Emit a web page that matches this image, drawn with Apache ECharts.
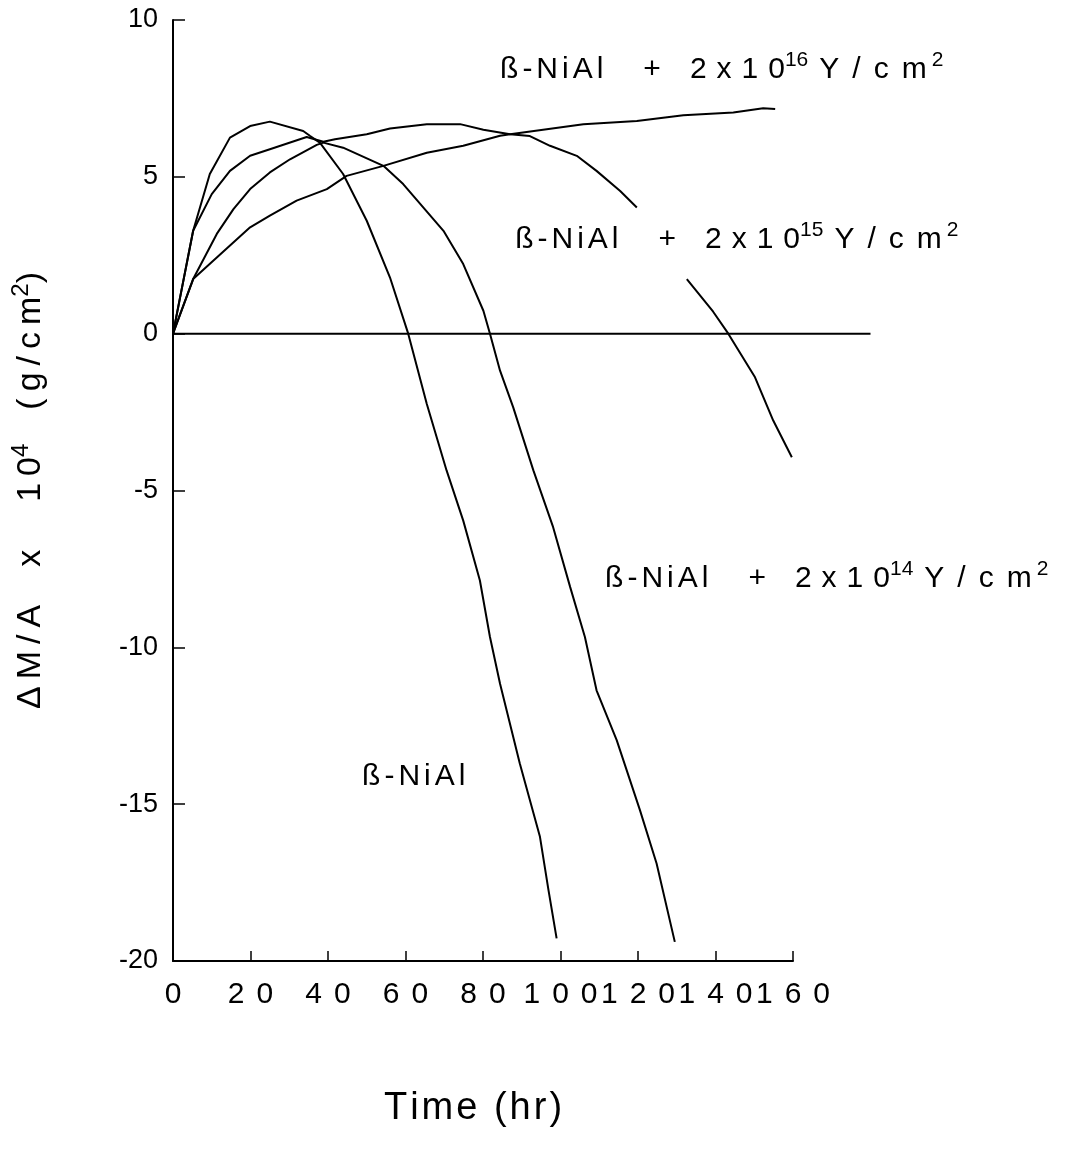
<!DOCTYPE html>
<html>
<head>
<meta charset="utf-8">
<script src="https://cdn.jsdelivr.net/npm/echarts@6/dist/echarts.min.js"></script>
<style>
html,body{margin:0;padding:0;background:#fff;}
#chart{width:1066px;height:1154px;}
</style>
</head>
<body>
<div id="chart"></div>
<script>
// ---- data (time in hr, mass change x10^4 g/cm^2) ----
const timeBare  = [0, 5.2, 9.5, 14.7, 19.9, 25.0, 33.6, 35.4, 37.9, 43.9, 50.0, 56.0, 60.7, 65.5, 70.6, 74.9, 79.2, 81.8, 84.4, 89.5, 94.7, 96.9, 99.0];
const valueBare = [0, 3.28, 5.09, 6.25, 6.62, 6.76, 6.46, 6.30, 6.09, 5.09, 3.60, 1.79, 0.0, -2.24, -4.36, -5.96, -7.87, -9.67, -11.16, -13.70, -16.04, -17.74, -19.28];

const time14  = [0, 5.2, 11.3, 15.6, 19.9, 25.0, 30.2, 37.1, 38.8, 43.9, 54.3, 59.4, 69.8, 74.9, 80.1, 81.8, 84.4, 87.8, 93.0, 98.1, 102.5, 106.3, 109.3, 114.5, 120.5, 124.8, 129.5];
const value14 = [0, 1.74, 3.18, 3.97, 4.61, 5.14, 5.56, 6.02, 6.09, 5.93, 5.35, 4.77, 3.28, 2.22, 0.73, 0.0, -1.18, -2.35, -4.36, -6.17, -8.08, -9.67, -11.37, -12.96, -15.19, -16.89, -19.39];

const time15a  = [0, 5.2, 10.0, 14.7, 19.9, 25.0, 34.5, 38.8, 41.8, 50.0, 56.0, 65.5, 74.1, 80.1, 87.0, 92.1, 97.3, 104.2, 109.3, 115.4, 119.7];
const value15a = [0, 3.28, 4.45, 5.19, 5.67, 5.88, 6.27, 6.12, 6.20, 6.36, 6.54, 6.68, 6.68, 6.50, 6.36, 6.30, 5.99, 5.67, 5.19, 4.55, 4.02];
const time15b  = [132.6, 139.4, 143.3, 150.2, 154.9, 159.7];
const value15b = [1.74, 0.70, 0.0, -1.39, -2.77, -3.94];

const time16  = [0, 5.2, 11.3, 19.9, 25.0, 31.9, 39.7, 44.8, 54.3, 65.5, 74.9, 84.4, 87.0, 105.9, 119.7, 131.7, 144.6, 152.3, 155.4];
const value16 = [0, 1.74, 2.43, 3.39, 3.76, 4.24, 4.61, 5.03, 5.35, 5.77, 5.99, 6.31, 6.36, 6.68, 6.78, 6.96, 7.05, 7.19, 7.16];

// zero reference line runs past the last tick, to 180 hr
const zeroTime  = [0, 180];
const zeroValue = [0, 0];

// annotation anchors (data coordinates) and doses
const noteTime  = [84.4, 88.3, 111.5, 48.8];
const noteValue = [8.41, 2.99, -7.8, -14.14];
const noteDose  = ['16', '15', '14', ''];

const xMin = 0, xMax = 160, xStep = 20;
const yMin = -20, yMax = 10, yStep = 5;
const xMaxZero = 180;

// ---- helpers ----
const FONT = "'Liberation Sans', Arial, Helvetica, sans-serif";
function zip(t, v) { return t.map((x, i) => [x, v[i]]); }
function spaced(s, style, lastStyle) {
  const ch = s.split('');
  return ch.map((c, i) => '{' + ((i === ch.length - 1 && lastStyle) ? lastStyle : style) + '|' + c + '}').join('');
}
function noteText(dose) {
  let s = spaced('ß-NiAl', 'n', 'e');
  if (dose) {
    s += '{g1| }{e|+}{g2| }' + spaced('2x10', 'd', 'e') + '{s|' + dose + '}{g3| }' + spaced('Y/cm', 'y', 'e') + '{g4| }{s|2}';
  }
  return s;
}

const lineStyle = { color: '#000', width: 2 };
function mkSeries(t, v, gi) {
  return { type: 'line', data: zip(t, v), symbol: 'none', showSymbol: false, lineStyle: lineStyle,
           xAxisIndex: gi, yAxisIndex: gi, silent: true, animation: false, z: 3 };
}

const chart = echarts.init(document.getElementById('chart'), null, { renderer: 'canvas' });

const yName = spaced('ΔM/A', 'a', 'e') + '{g1| }{e|x}{g2| }' + spaced('10', 'a', 'e') + '{s|4}{g3| }' + spaced('(g/cm', 'a', 'e') + '{s|2}{e|)}';
const xName = spaced('Time (hr)', 'a', 'e');

// pixel scale of main grid: 160 hr over 620 px -> zero-line grid ends at 180 hr
const gridLeft = 173, gridRight = 273, plotW = 1066 - gridLeft - gridRight;
const zeroRight = 1066 - gridLeft - plotW * xMaxZero / xMax;

chart.setOption({
  backgroundColor: '#fff',
  animation: false,
  grid: [
    { left: gridLeft, right: gridRight, top: 20, bottom: 193, outerBoundsMode: 'none', containLabel: false },
    { left: gridLeft, right: zeroRight, top: 20, bottom: 193, outerBoundsMode: 'none', containLabel: false }
  ],
  xAxis: [{
    type: 'value', min: xMin, max: xMax, interval: xStep, gridIndex: 0,
    axisLine: { show: true, onZero: false, lineStyle: { color: '#000', width: 2 } },
    axisTick: { show: true, inside: true, length: 10, lineStyle: { color: '#000', width: 1.5 } },
    splitLine: { show: false },
    axisLabel: {
      margin: 19,
      formatter: v => spaced(String(v), 'd', 'e'),
      rich: {
        d: { fontFamily: FONT, fontSize: 30, color: '#000', padding: [0, 12, 0, 0] },
        e: { fontFamily: FONT, fontSize: 30, color: '#000' }
      }
    },
    name: xName, nameLocation: 'middle', nameGap: 128,
    nameTextStyle: {
      padding: [0, 20, 0, 0],
      rich: {
        a: { fontFamily: FONT, fontSize: 38, color: '#000', padding: [0, 3, 0, 0], lineHeight: 40 },
        e: { fontFamily: FONT, fontSize: 38, color: '#000', lineHeight: 40 }
      }
    }
  }, {
    type: 'value', min: xMin, max: xMaxZero, gridIndex: 1, show: false
  }],
  yAxis: [{
    type: 'value', min: yMin, max: yMax, interval: yStep, gridIndex: 0,
    axisLine: { show: true, onZero: false, lineStyle: { color: '#000', width: 2 } },
    axisTick: { show: true, inside: true, length: 12, lineStyle: { color: '#000', width: 1.5 } },
    splitLine: { show: false },
    axisLabel: { fontFamily: FONT, fontSize: 27, color: '#000', margin: 15 },
    name: yName, nameLocation: 'middle', nameRotate: 90, nameGap: 120,
    nameTextStyle: {
      rich: {
        a: { fontFamily: FONT, fontSize: 34, color: '#000', padding: [0, 7, 0, 0], lineHeight: 44 },
        e: { fontFamily: FONT, fontSize: 34, color: '#000', lineHeight: 44 },
        s: { fontFamily: FONT, fontSize: 24, color: '#000', lineHeight: 14, verticalAlign: 'top' },
        g1: { width: 38, lineHeight: 44 },
        g2: { width: 48, lineHeight: 44 },
        g3: { width: 34, lineHeight: 44 }
      }
    }
  }, {
    type: 'value', min: yMin, max: yMax, gridIndex: 1, show: false
  }],
  series: [
    mkSeries(zeroTime, zeroValue, 1),
    mkSeries(timeBare, valueBare, 0),
    mkSeries(time14, value14, 0),
    mkSeries(time15a, value15a, 0),
    mkSeries(time15b, value15b, 0),
    mkSeries(time16, value16, 0)
  ]
});

const noteRich = {
  n: { fontFamily: FONT, fontSize: 30, fill: '#000', padding: [0, 4, 0, 0], lineHeight: 40 },
  d: { fontFamily: FONT, fontSize: 30, fill: '#000', padding: [0, 10, 0, 0], lineHeight: 40 },
  y: { fontFamily: FONT, fontSize: 30, fill: '#000', padding: [0, 13, 0, 0], lineHeight: 40 },
  e: { fontFamily: FONT, fontSize: 30, fill: '#000', lineHeight: 40 },
  s: { fontFamily: FONT, fontSize: 21, fill: '#000', lineHeight: 12, verticalAlign: 'top' },
  g1: { width: 40, lineHeight: 40 },
  g2: { width: 29, lineHeight: 40 },
  g3: { width: 11, lineHeight: 40 },
  g4: { width: 5, lineHeight: 40 }
};

const graphics = noteTime.map((t, i) => {
  const p = chart.convertToPixel({ xAxisIndex: 0, yAxisIndex: 0 }, [t, noteValue[i]]);
  return {
    type: 'text', x: p[0], y: p[1], silent: true, z: 10,
    style: {
      text: noteText(noteDose[i]), rich: noteRich,
      fontFamily: FONT, fontSize: 30, fill: '#000',
      align: 'left', verticalAlign: 'middle'
    }
  };
});
chart.setOption({ graphic: graphics });
</script>
</body>
</html>
